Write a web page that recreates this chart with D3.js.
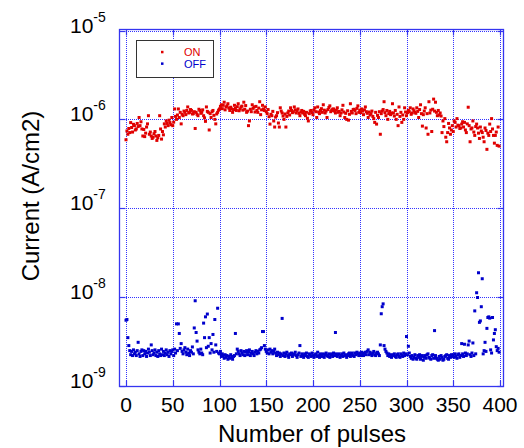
<!DOCTYPE html>
<html>
<head>
<meta charset="utf-8">
<script src="https://cdn.jsdelivr.net/npm/d3@7"></script>
<style>
body { margin: 0; background: #fff; }
svg { display: block; font-family: "Liberation Sans", Arial, sans-serif; }
</style>
</head>
<body>
<script>
// ON current, in units of 1e-7 A/cm2, one value per pulse (0..399)
var onCurrent = [
5.9,7.4,6.8,7.9,7.1,9.2,8.1,7.2,8.8,8.5, 7.6,7.8,9.0,8.3,10.5,8.5,9.4,7.8,6.5,7.7,
6.4,7.0,8.2,8.9,11.0,6.8,7.2,6.5,6.1,6.3, 6.9,7.3,6.5,5.8,6.2,6.6,11.0,7.8,6.0,7.3,
6.7,8.9,8.2,9.6,9.0,8.5,9.8,9.2,8.7,10.5, 8.5,9.3,13.1,10.8,10.0,11.2,13.1,10.5,12.0,8.9,
11.4,11.0,12.4,12.0,11.3,12.6,13.8,11.8,12.0,12.9, 12.6,11.5,11.6,12.2,7.9,12.0,11.4,11.0,13.0,12.6,
11.7,12.0,12.8,11.0,10.4,9.5,13.8,12.3,12.0,7.6, 11.6,10.5,12.2,12.6,11.1,10.0,8.9,11.5,12.0,12.7,
13.1,14.0,14.6,13.2,14.4,15.6,12.8,13.8,14.2,15.0, 13.4,12.6,13.7,13.1,12.0,12.9,14.4,13.3,12.6,13.9,
15.0,12.5,13.1,13.8,14.1,12.7,15.6,13.0,14.3,12.0, 12.4,8.5,9.6,13.0,12.2,14.6,13.3,13.8,12.1,14.0,
12.6,12.0,13.4,15.8,11.3,12.8,14.4,13.1,12.6,13.8, 12.2,11.6,12.9,10.7,8.85,11.4,11.0,12.3,9.6,8.2,
10.6,11.0,11.9,9.1,8.2,13.5,12.4,11.8,10.9,10.0, 11.5,8.2,10.8,11.8,12.4,11.2,13.5,12.6,11.9,12.2,
13.8,12.8,11.8,12.5,13.1,11.7,11.0,12.1,12.6,11.8, 12.3,11.4,11.0,12.0,10.3,9.6,11.6,12.4,12.6,11.9,
11.3,12.7,13.5,12.2,10.5,13.8,12.1,11.6,12.6,13.2, 12.0,14.6,12.7,11.8,12.4,10.5,12.9,13.6,14.2,12.2,
12.6,13.0,13.1,12.4,11.8,12.7,13.5,12.0,12.3,11.0, 11.8,12.8,14.4,12.1,10.5,11.7,10.0,12.5,9.8,11.4,
15.0,12.3,11.8,12.9,13.0,12.6,11.6,13.3,14.2,12.0, 12.7,11.9,13.1,12.4,11.3,12.8,13.8,12.2,11.7,10.5,
12.1,11.2,11.6,12.4,10.8,10.2,9.25,12.0,8.85,11.1, 10.5,12.2,6.8,11.6,12.4,12.9,15.8,11.9,11.0,12.6,
10.0,11.6,12.3,11.3,11.8,15.0,11.8,10.9,12.6,10.0, 11.4,8.5,13.8,10.8,12.0,9.25,11.2,10.0,13.5,12.1,
11.0,11.9,12.6,12.2,13.5,11.4,11.8,13.1,12.5,12.0, 11.7,13.5,12.3,10.5,12.9,14.6,11.6,8.4,11.3,12.4,
13.5,8.0,11.6,6.8,15.8,11.8,12.7,7.3,13.0,16.9, 12.4,15.6,12.0,11.0,12.6,11.2,11.8,10.9,7.1,9.6,
8.3,10.2,6.3,5.6,7.1,9.0,8.0,6.8,7.6,8.5, 7.3,9.6,9.25,8.2,10.2,8.6,8.5,7.9,8.0,8.85,
9.4,8.2,9.25,7.6,7.1,8.9,13.7,8.5,5.6,7.8, 8.0,9.6,7.2,6.6,8.3,8.85,8.0,7.0,6.1,8.2,
7.4,7.1,6.3,5.6,8.0,7.5,4.6,7.0,6.6,8.85, 7.3,10.2,7.8,6.6,5.4,6.6,7.2,5.1,8.2,5.0
];
// OFF current, in units of 1e-9 A/cm2
var offCurrent = [
5.5,5.6,3.5,2.85,2.5,2.25,2.45,2.2,2.55,2.3, 2.4,2.2,2.5,3.1,2.3,2.15,2.45,2.55,2.2,2.5,
2.3,2.45,2.15,2.35,2.6,2.4,2.2,2.9,2.5,2.25, 2.35,2.55,2.2,2.4,2.15,2.5,2.3,2.2,2.6,2.25,
2.45,2.2,2.35,2.55,2.25,2.4,2.15,2.5,2.3,2.45, 2.55,2.2,2.6,2.35,5.0,2.5,5.0,3.9,2.65,3.0,
2.45,2.3,2.55,2.7,2.4,2.25,2.6,2.35,2.2,2.5, 2.4,2.75,2.3,4.5,9.1,4.0,3.2,2.55,2.4,2.3,
2.6,2.35,2.25,5.1,3.5,6.0,2.7,6.45,2.8,3.5, 2.35,3.0,2.55,3.8,2.4,5.6,2.9,2.45,7.5,2.35,
2.3,2.45,2.15,2.3,2.2,2.05,2.25,2.1,2.2,2.0, 2.15,2.05,2.25,2.1,2.0,2.15,2.2,3.9,2.3,2.6,
2.45,2.3,2.2,2.5,2.35,2.25,2.45,2.2,2.4,2.5, 2.25,2.4,2.55,2.2,2.35,2.45,2.3,2.2,2.4,2.5,
2.3,2.45,2.35,2.55,2.6,2.7,4.1,4.1,2.85,2.6, 2.45,2.35,2.55,2.3,2.6,2.4,2.5,2.3,2.45,2.6,
2.35,2.2,2.4,2.25,2.35,2.15,2.3,5.76,2.2,2.35, 2.15,2.3,2.4,2.2,2.1,2.3,2.25,2.35,2.15,2.25,
2.3,2.4,2.2,2.1,2.25,2.35,2.85,2.15,2.3,2.2, 2.1,2.3,2.2,2.35,2.15,2.1,2.3,2.25,2.15,2.35,
2.2,2.1,2.25,2.3,2.15,2.4,2.2,2.1,2.3,2.2, 2.15,2.3,2.1,2.25,2.35,2.2,2.15,2.3,2.1,2.25,
2.3,2.15,2.35,2.2,4.0,2.3,2.15,2.25,2.3,2.1, 2.2,2.3,2.15,2.35,2.2,2.25,2.1,2.2,2.3,2.35,
2.15,2.25,2.35,2.2,2.15,2.35,2.25,2.4,2.3,2.2, 2.35,2.2,2.4,2.3,2.2,2.35,2.4,2.25,2.45,2.55,
2.25,2.4,2.3,2.2,2.35,2.45,2.25,2.2,2.35,2.4, 2.3,2.2,2.9,6.5,7.8,8.4,2.85,2.6,2.45,2.35,
2.2,2.3,2.15,2.25,2.1,2.2,2.25,2.3,2.15,2.1, 2.25,2.3,2.15,2.1,2.3,2.2,2.15,2.35,2.2,2.3,
3.6,2.25,2.8,2.35,2.15,2.05,2.2,2.0,2.1,2.25, 2.05,2.0,2.2,2.1,2.25,2.0,2.15,2.2,1.95,2.1,
2.2,2.05,2.25,2.3,2.1,2.05,2.0,2.2,2.25,2.05, 4.2,2.2,2.05,2.0,1.95,2.15,2.0,2.2,2.1,1.95,
2.0,2.15,2.2,2.25,2.05,2.0,2.2,2.1,2.25,2.15, 2.25,2.1,2.3,2.15,2.05,2.25,2.3,2.1,2.2,3.0,
2.3,2.15,2.95,2.35,2.2,2.3,2.9,3.2,2.25,2.15, 2.35,3.05,2.2,7.0,2.3,11.2,9.9,18.8,5.2,5.4,
7.8,16.1,2.3,2.5,3.1,2.45,4.45,5.9,6.0,5.8, 2.55,2.35,5.9,3.3,3.9,4.3,2.77,2.5,2.65,2.4
];
var xTicks = [0, 50, 100, 150, 200, 250, 300, 350, 400];
var yExponents = [-9, -8, -7, -6, -5];
var seriesNames = ["ON", "OFF"];
var seriesColors = ["#e00000", "#0000cc"];

var width = 524, height = 448;
var frame = { left: 119.5, right: 503.5, top: 29.5, bottom: 386.5 };
var svg = d3.select("body").append("svg").attr("width", width).attr("height", height);

var x = d3.scaleLinear().domain([0, 400]).range([126, 500]);
var y = d3.scaleLog().domain([1e-9, 1e-5]).range([386, 30.5]);
var px = v => Math.round(v) + 0.5;

var gridColor = "#3333ff";
// dotted grid
var grid = svg.append("g").attr("stroke", gridColor).attr("stroke-width", 1)
    .attr("stroke-dasharray", "1,1").attr("shape-rendering", "crispEdges");
grid.selectAll("line.v").data(xTicks).join("line").attr("class", "v")
    .attr("x1", d => px(x(d))).attr("x2", d => px(x(d)))
    .attr("y1", frame.top).attr("y2", frame.bottom);
grid.selectAll("line.h").data(yExponents).join("line").attr("class", "h")
    .attr("x1", frame.left).attr("x2", frame.right)
    .attr("y1", d => px(y(Math.pow(10, d)))).attr("y2", d => px(y(Math.pow(10, d))));

// data points
var pulses = onCurrent.map((v, i) => i);
var plot = svg.append("g");
plot.selectAll("rect.off").data(offCurrent).join("rect").attr("class", "off")
    .attr("x", (d, i) => x(pulses[i]) - 1.5).attr("y", d => y(d * 1e-9) - 1.5)
    .attr("width", 3).attr("height", 3).attr("fill", seriesColors[1]);
plot.selectAll("rect.on").data(onCurrent).join("rect").attr("class", "on")
    .attr("x", (d, i) => x(pulses[i]) - 1.5).attr("y", d => y(d * 1e-7) - 1.5)
    .attr("width", 3).attr("height", 3).attr("fill", seriesColors[0]);

// frame and inward ticks
var axisColor = "#3535f0";
svg.append("rect")
    .attr("x", frame.left).attr("y", frame.top)
    .attr("width", frame.right - frame.left).attr("height", frame.bottom - frame.top)
    .attr("fill", "none").attr("stroke", axisColor).attr("stroke-width", 1.3);
var tickLen = 6;
var ticks = svg.append("g").attr("stroke", axisColor).attr("stroke-width", 1.2);
ticks.selectAll("line.b").data(xTicks).join("line").attr("class", "b")
    .attr("x1", d => px(x(d))).attr("x2", d => px(x(d))).attr("y1", frame.bottom).attr("y2", frame.bottom - tickLen);
ticks.selectAll("line.t").data(xTicks).join("line").attr("class", "t")
    .attr("x1", d => px(x(d))).attr("x2", d => px(x(d))).attr("y1", frame.top).attr("y2", frame.top + tickLen);
ticks.selectAll("line.l").data(yExponents).join("line").attr("class", "l")
    .attr("x1", frame.left).attr("x2", frame.left + tickLen)
    .attr("y1", d => px(y(Math.pow(10, d)))).attr("y2", d => px(y(Math.pow(10, d))));
ticks.selectAll("line.r").data(yExponents).join("line").attr("class", "r")
    .attr("x1", frame.right).attr("x2", frame.right - tickLen)
    .attr("y1", d => px(y(Math.pow(10, d)))).attr("y2", d => px(y(Math.pow(10, d))));

// tick labels
svg.append("g").selectAll("text").data(xTicks).join("text")
    .attr("x", d => x(d)).attr("y", 412)
    .attr("text-anchor", "middle").attr("font-size", 21).attr("fill", "#000")
    .text(d => d);
var yLabels = svg.append("g").selectAll("text").data(yExponents).join("text")
    .attr("x", 70).attr("y", d => y(Math.pow(10, d)) + 2)
    .attr("font-size", 21).attr("fill", "#000");
yLabels.append("tspan").text("10");
yLabels.append("tspan").attr("dy", -11).attr("font-size", 14).text(d => "-" + Math.abs(d));

// axis titles
svg.append("text").attr("x", 312).attr("y", 442)
    .attr("text-anchor", "middle").attr("font-size", 24).text("Number of pulses");
svg.append("text").attr("transform", "translate(39,196) rotate(-90)")
    .attr("text-anchor", "middle").attr("font-size", 24).text("Current (A/cm2)");

// legend
var legend = svg.append("g");
legend.append("rect").attr("x", 136.5).attr("y", 40.5).attr("width", 77).attr("height", 37)
    .attr("fill", "#fff").attr("stroke", "#333").attr("stroke-width", 1);
var legendRows = legend.selectAll("g").data(seriesNames).join("g")
    .attr("transform", (d, i) => "translate(0," + (52 + i * 11.6) + ")");
legendRows.append("rect").attr("x", 161).attr("y", -1.2).attr("width", 2.5).attr("height", 2.5)
    .attr("fill", (d, i) => seriesColors[i]);
legendRows.append("text").attr("x", 184).attr("y", 4).attr("font-size", 11)
    .attr("fill", (d, i) => seriesColors[i]).text(d => d);
</script>
</body>
</html>
